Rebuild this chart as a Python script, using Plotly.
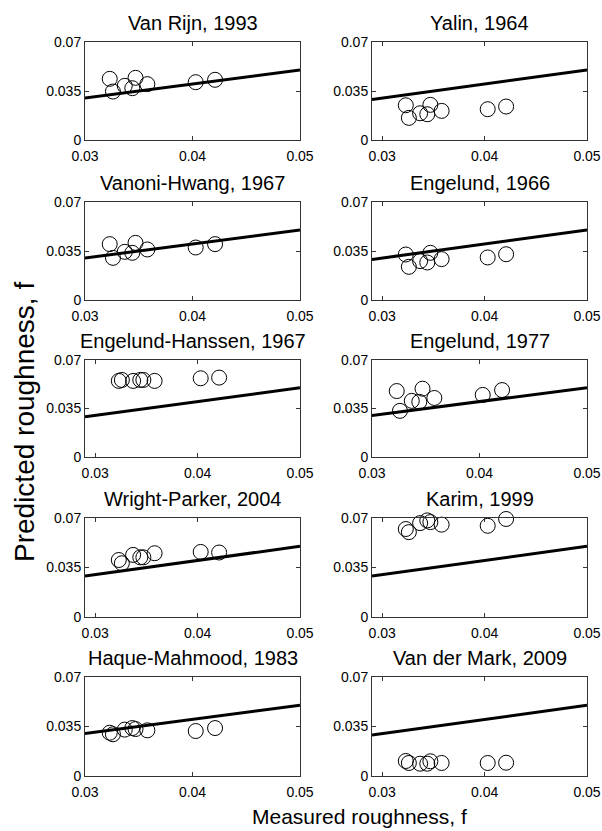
import plotly.graph_objects as go

# ---------------- data ----------------
titles = ["Van Rijn, 1993", "Yalin, 1964",
          "Vanoni-Hwang, 1967", "Engelund, 1966",
          "Engelund-Hanssen, 1967", "Engelund, 1977",
          "Wright-Parker, 2004", "Karim, 1999",
          "Haque-Mahmood, 1983", "Van der Mark, 2009"]

measured = [0.0323, 0.0326, 0.0337, 0.0344, 0.0347, 0.0358, 0.0403, 0.0421]

van_rijn = [0.0437, 0.0346, 0.0387, 0.0370, 0.0444, 0.0399, 0.0413, 0.0430]
yalin = [0.0248, 0.0158, 0.0191, 0.0184, 0.0251, 0.0208, 0.0220, 0.0239]
vanoni_hwang = [0.0399, 0.0301, 0.0344, 0.0337, 0.0408, 0.0361, 0.0375, 0.0399]
engelund_1966 = [0.0325, 0.0237, 0.0278, 0.0268, 0.0337, 0.0292, 0.0304, 0.0327]
engelund_hanssen = [0.0549, 0.0556, 0.0549, 0.0556, 0.0556, 0.0549, 0.0568, 0.0573]
engelund_1977 = [0.0476, 0.0333, 0.0405, 0.0398, 0.0493, 0.0426, 0.0448, 0.0483]
wright_parker = [0.0403, 0.0380, 0.0439, 0.0422, 0.0422, 0.0451, 0.0460, 0.0456]
karim = [0.0622, 0.0600, 0.0664, 0.0683, 0.0671, 0.0653, 0.0645, 0.0693]
haque_mahmood = [0.0306, 0.0295, 0.0328, 0.0339, 0.0332, 0.0323, 0.0318, 0.0339]
van_der_mark = [0.0106, 0.0092, 0.0087, 0.0087, 0.0104, 0.0092, 0.0092, 0.0094]

predicted = [van_rijn, yalin, vanoni_hwang, engelund_1966, engelund_hanssen,
             engelund_1977, wright_parker, karim, haque_mahmood, van_der_mark]

# perfect-agreement (1:1) line
line_x = [0.029, 0.05]
line_y = [0.029, 0.05]

x_tickvals = [0.03, 0.04, 0.05]
x_ticktext = ["0.03", "0.04", "0.05"]
y_tickvals = [0, 0.035, 0.07]
y_ticktext = ["0", "0.035", "0.07"]

x_start = [0.03, 0.029, 0.03, 0.029, 0.029, 0.03, 0.029, 0.029, 0.03, 0.029]

# ---------------- layout geometry (pixels) ----------------
W, H = 602, 831
col_px = [(85, 300), (372, 587)]
row_px = [(42, 140), (202, 300), (360, 457), (518, 617), (677, 776)]

FONT = "Liberation Sans, Arial, Helvetica, sans-serif"

fig = go.Figure()
annotations = []
layout_axes = {}

for i, (title, yvals) in enumerate(zip(titles, predicted)):
    r, c = divmod(i, 2)
    n = i + 1
    xa = "x" if n == 1 else f"x{n}"
    ya = "y" if n == 1 else f"y{n}"
    x0, x1 = col_px[c]
    t, b = row_px[r]

    fig.add_trace(go.Scatter(x=line_x, y=line_y, mode="lines",
                             line=dict(color="black", width=3),
                             xaxis=xa, yaxis=ya, showlegend=False,
                             hoverinfo="skip"))
    fig.add_trace(go.Scatter(x=measured, y=yvals, mode="markers",
                             marker=dict(symbol="circle-open", size=15,
                                         color="black",
                                         line=dict(color="black", width=1)),
                             cliponaxis=False,
                             xaxis=xa, yaxis=ya, showlegend=False))

    common = dict(showgrid=False, zeroline=False, showline=True,
                  linecolor="#333333", linewidth=1, mirror="ticks",
                  ticks="inside", ticklen=4, tickwidth=1, tickcolor="#333333",
                  automargin=False,
                  tickfont=dict(family=FONT, size=14, color="black"))
    layout_axes["xaxis" if n == 1 else f"xaxis{n}"] = dict(
        domain=[x0 / W, x1 / W], range=[x_start[i], 0.05],
        anchor=ya, tickvals=x_tickvals, ticktext=x_ticktext,
        ticklabelstandoff=3, **common)
    layout_axes["yaxis" if n == 1 else f"yaxis{n}"] = dict(
        domain=[1 - b / H, 1 - t / H], range=[0, 0.07],
        anchor=xa, tickvals=y_tickvals, ticktext=y_ticktext, **common)

    annotations.append(dict(text=title, xref="paper", yref="paper",
                            x=(x0 + x1) / 2 / W, y=1 - (t - 19) / H,
                            xanchor="center", yanchor="middle",
                            showarrow=False,
                            font=dict(family=FONT, size=20, color="black")))

annotations.append(dict(text="Measured roughness, f", xref="paper", yref="paper",
                        x=359 / W, y=1 - 816 / H, xanchor="center",
                        yanchor="middle", showarrow=False,
                        font=dict(family=FONT, size=21, color="black")))
annotations.append(dict(text="Predicted roughness, f", xref="paper", yref="paper",
                        x=24 / W, y=1 - 422 / H, xanchor="center",
                        yanchor="middle", showarrow=False, textangle=-90,
                        font=dict(family=FONT, size=28, color="black")))

fig.update_layout(width=W, height=H, margin=dict(l=0, r=0, t=0, b=0),
                  template="none",
                  paper_bgcolor="white", plot_bgcolor="white",
                  annotations=annotations, **layout_axes)

fig.write_html("out.html",
               config={"displayModeBar": False},
               post_script="document.body.style.margin='0px';"
                           "document.body.style.overflow='hidden';")
